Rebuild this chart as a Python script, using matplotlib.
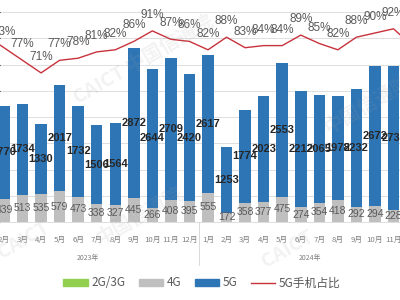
import matplotlib
matplotlib.use('Agg')
import matplotlib.pyplot as plt
import numpy as np
from matplotlib import font_manager
from matplotlib.patches import Patch
from matplotlib.lines import Line2D

# 2023.1 ~ 2024.12 월별 출하량(만대) 및 5G 비중
months = ['1月', '2月', '3月', '4月', '5月', '6月', '7月', '8月', '9月', '10月', '11月', '12月'] * 2
years = ['2023年', '2024年']
g23 = [6, 5, 5, 4, 5, 4, 4, 4, 5, 3, 4, 4, 4, 3, 4, 4, 5, 3, 4, 4, 3, 3, 3, 4]
g4 = [230, 439, 513, 535, 579, 473, 338, 327, 445, 266, 408, 395,
      555, 172, 358, 377, 475, 274, 354, 418, 292, 294, 228, 490]
g5 = [1860, 1770, 1734, 1330, 2017, 1732, 1506, 1564, 2872, 2644, 2709, 2420,
      2617, 1253, 1774, 2023, 2553, 2212, 2065, 1978, 2232, 2672, 2731, 2630]
pct = [89, 83, 77, 71, 77, 78, 81, 82, 86, 91, 87, 86,
       82, 88, 83, 84, 84, 89, 85, 82, 88, 90, 92, 84]

names = {f.name for f in font_manager.fontManager.ttflist}
num_font = 'Liberation Sans Narrow' if 'Liberation Sans Narrow' in names else 'Liberation Sans'
cjk = ['Noto Sans CJK SC', 'DejaVu Sans']

c_green = '#92D050'
c_gray = '#BFBFBF'
c_blue = '#2E75B6'
c_red = '#C8323C'

x = np.arange(len(g5))
g23 = np.array(g23)
g4 = np.array(g4)
g5 = np.array(g5)

fig = plt.figure(figsize=(4, 3), dpi=100)
fig.patch.set_facecolor('white')
ax = fig.add_axes([0, 0.26, 1, 0.70])
ax.set_xlim(0.787, 22.35)
ax.set_ylim(0, 4000)

# 그리드
ax.set_yticks(np.arange(0, 4001, 500))
ax.yaxis.grid(True, color='#D9D9D9', linewidth=0.6)
ax.set_axisbelow(True)
ax.tick_params(left=False, labelleft=False, bottom=False, labelbottom=False)
for s in ['top', 'right', 'left']:
    ax.spines[s].set_visible(False)
ax.spines['bottom'].set_color('#D9D9D9')
ax.spines['bottom'].set_linewidth(0.6)

w = 0.62
ax.bar(x, g23, w, color=c_green)
ax.bar(x, g4, w, bottom=g23, color=c_gray)
ax.bar(x, g5, w, bottom=g23 + g4, color=c_blue)

# 막대 라벨
for i in x:
    ax.text(i, g23[i] + g4[i] / 2, str(g4[i]), ha='center', va='center',
            fontsize=7.5, color='#595959', family=num_font)
    ax.text(i, g23[i] + g4[i] + g5[i] / 2, str(g5[i]), ha='center', va='center',
            fontsize=8, color='#262626', fontweight='bold', family=num_font)

# 월 / 연도 라벨
tr = ax.get_xaxis_transform()
for i in x:
    ax.text(i, -0.0857, months[i], transform=tr, ha='center', va='center',
            fontsize=5.6, color='#7F7F7F', family=cjk, clip_on=False)
for k, yr in enumerate(years):
    ax.text(5.5 + 12 * k, -0.171, yr, transform=tr, ha='center', va='center',
            fontsize=5, color='#7F7F7F', family=cjk, clip_on=False)
for sx in [-0.5, 11.5, 23.5]:
    ax.plot([sx, sx], [0, -0.205], transform=tr, color='#D9D9D9', linewidth=0.7, clip_on=False)

# 5G 비중 꺾은선
ax2 = ax.twinx()
ax2.set_ylim(0, 1)
ax2.axis('off')
ax2.plot(x, np.array(pct) / 100, color=c_red, linewidth=1.0)
for i in x:
    ax2.annotate(f'{pct[i]}%', (i, pct[i] / 100), xytext=(0, 11.5), textcoords='offset points',
                 ha='center', va='center', fontsize=8.5, color='#595959', family=num_font)

# 워터마크
for (wx, wy, txt) in [(0.06, 0.20, 'CAICT'), (0.72, 0.17, 'CAICT'),
                      (0.35, 0.28, '中国信通院'), (0.36, 0.80, 'CAICT 中国信通院'),
                      (0.92, 0.65, '中国信通院')]:
    fig.text(wx, wy, txt, rotation=30, fontsize=14, color='#9E9E9E', alpha=0.13,
             fontweight='bold', ha='center', va='center', family=cjk)

handles = [Patch(color=c_green), Patch(color=c_gray), Patch(color=c_blue),
           Line2D([0], [0], color=c_red, linewidth=1.0)]
labels = ['2G/3G', '4G', '5G', '5G手机占比']
fig.legend(handles, labels, loc='center', bbox_to_anchor=(202 / 400, 1 - 283 / 300), ncol=4,
           frameon=False, prop={'family': cjk, 'size': 8.5}, labelcolor='#595959',
           handlelength=2.1, handleheight=0.5, handletextpad=0.3, columnspacing=1.1)

fig.savefig('out.png', dpi=100)
